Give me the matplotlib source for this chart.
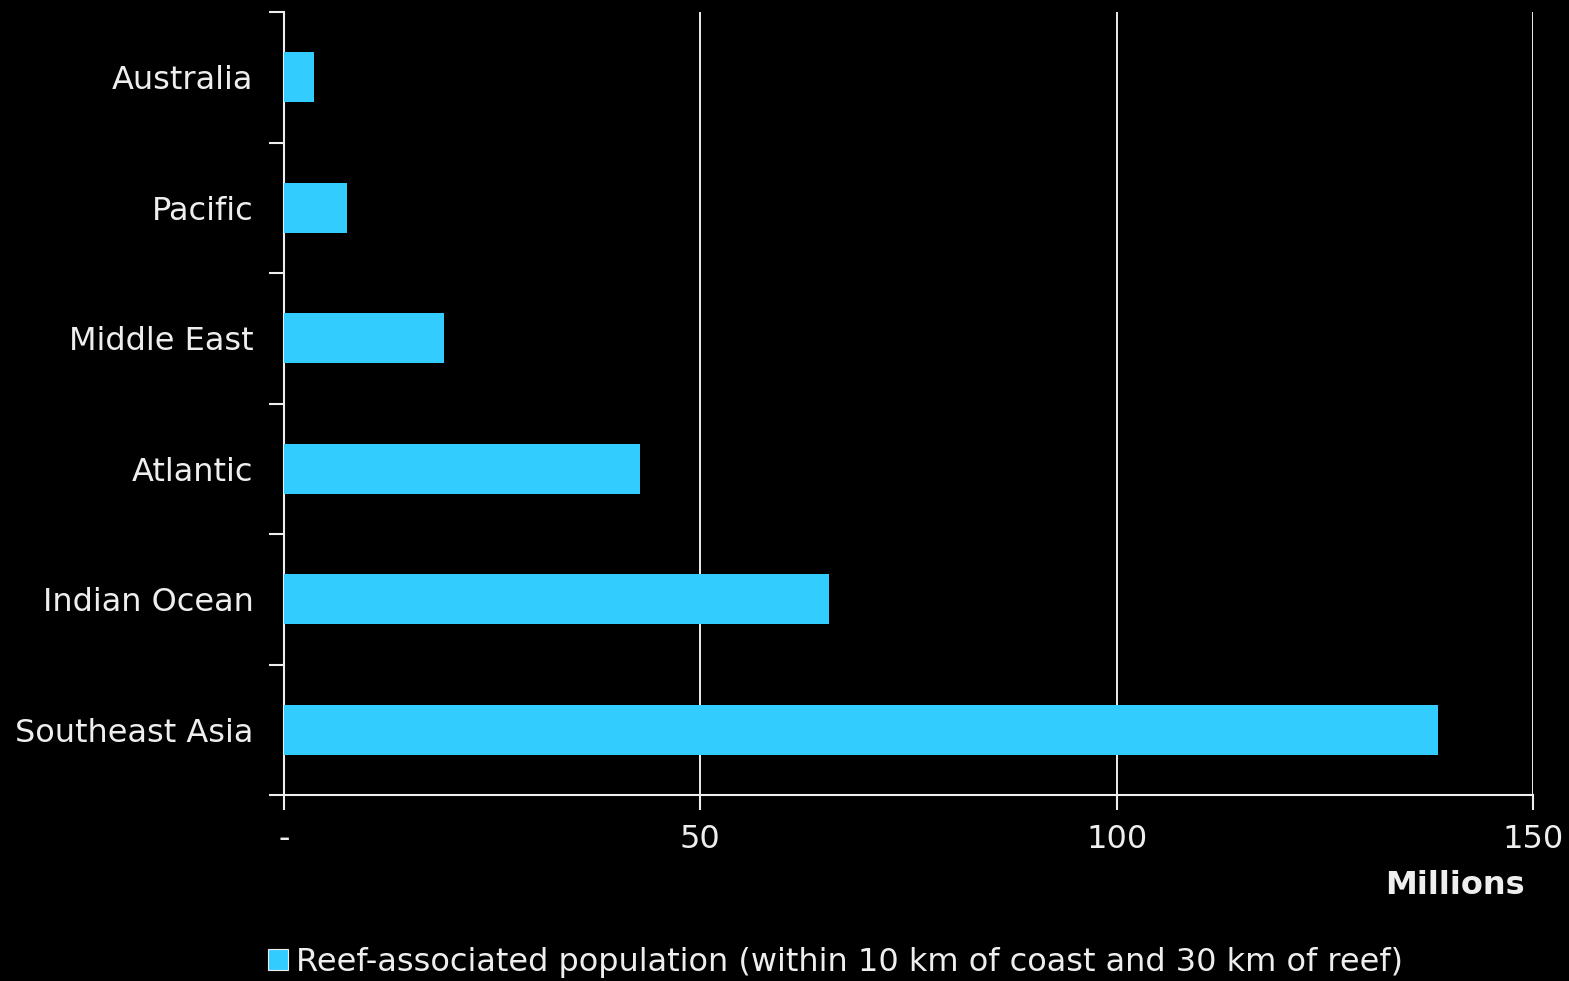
import matplotlib
matplotlib.use("Agg")
from matplotlib import pyplot as plt
from matplotlib.patches import Patch
import numpy as np

# Reef-associated population by region (millions)
regions = ['Australia', 'Pacific', 'Middle East', 'Atlantic', 'Indian Ocean', 'Southeast Asia']
population = [3.6, 7.6, 19.2, 42.8, 65.4, 138.6]
x_ticks = [0, 50, 100, 150]
x_ticklabels = ['-', '50', '100', '150']
series_label = 'Reef-associated population (within 10 km of coast and 30 km of reef)'

BAR_COLOR = '#33ccff'
FG = '#eeeeee'
FS = 23

plt.rcParams['font.family'] = ['DejaVu Sans']

fig = plt.figure(figsize=(15.69, 9.81), dpi=100, facecolor='black')
ax = fig.add_axes([284 / 1569, 1 - 795 / 981, (1533 - 284) / 1569, (795 - 12) / 981])
ax.set_facecolor('black')

y = np.arange(len(regions))
ax.barh(y, population, height=0.38, color=BAR_COLOR, zorder=3)

ax.set_xlim(0, 150)
ax.set_ylim(len(regions) - 0.5, -0.5)

# category labels centred between boundary ticks
ax.set_yticks(y)
ax.set_yticklabels(regions, fontsize=FS, color=FG)
ax.tick_params(axis='y', which='major', length=0, pad=22)
ax.set_yticks(np.arange(len(regions) + 1) - 0.5, minor=True)
ax.tick_params(axis='y', which='minor', length=11, width=1.5, color=FG)

ax.set_xticks(x_ticks)
ax.set_xticklabels(x_ticklabels, fontsize=FS, color=FG)
ax.tick_params(axis='x', length=11, width=1.5, color=FG, pad=10)

ax.grid(axis='x', color='white', linewidth=1.3, zorder=1)
for side in ['top', 'right']:
    ax.spines[side].set_visible(False)
for side in ['left', 'bottom']:
    ax.spines[side].set_color(FG)
    ax.spines[side].set_linewidth(1.5)

fig.text(1525 / 1569, 1 - 885 / 981, 'Millions', fontsize=FS, fontweight='bold',
         color=FG, ha='right', va='center')

handle = Patch(facecolor=BAR_COLOR, edgecolor=FG, linewidth=0.8)
leg = fig.legend([handle], [series_label], loc='center left',
                 bbox_to_anchor=(239 / 1569, 1 - 962 / 981), frameon=False,
                 fontsize=FS, handlelength=0.62, handleheight=0.62, handletextpad=0.25,
                 labelcolor=FG)

plt.savefig('out.png', dpi=100, facecolor='black')
plt.close()
